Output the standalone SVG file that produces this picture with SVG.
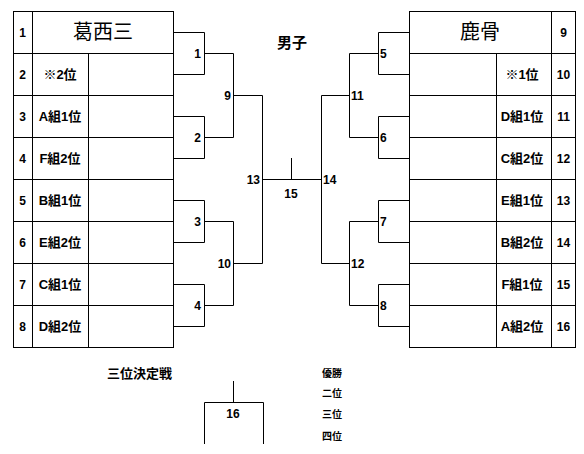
<svg xmlns="http://www.w3.org/2000/svg" width="584" height="454" viewBox="0 0 584 454">
<style>
.ln{fill:none;stroke:#000;stroke-width:1}
.cell{fill:#fff;stroke:#000;stroke-width:1}
.t{font-family:"Liberation Sans","Noto Sans CJK JP",sans-serif;font-weight:bold;font-size:12px;fill:#000}
.lab{font-family:"Liberation Sans","Noto Sans CJK JP",sans-serif;font-weight:bold;font-size:13px;fill:#000}
.cjk{font-family:"Noto Sans CJK JP",sans-serif}
.ttl{font-family:"Noto Sans CJK JP",sans-serif;font-size:20px;fill:#000}
.hd{font-family:"Noto Sans CJK JP",sans-serif;font-size:15px;font-weight:bold;fill:#000}
.sm{font-family:"Noto Sans CJK JP",sans-serif;font-size:10px;font-weight:bold;fill:#000}
.m{text-anchor:middle}
.e{text-anchor:end}
</style>
<rect width="584" height="454" fill="#fff"/>

<g id="left-table">
<rect class="cell" x="13.5" y="11.5" width="160" height="336"/>
<path class="ln" d="M32.5,11.5V347.5M88.5,53.5V347.5M13.5,53.5H173.5M13.5,95.5H173.5M13.5,137.5H173.5M13.5,179.5H173.5M13.5,221.5H173.5M13.5,263.5H173.5M13.5,305.5H173.5"/>
</g>
<g id="team-1"><text class="t m" x="22.5" y="37">1</text><text class="ttl m" x="103" y="39">葛西三</text></g>
<g id="team-2"><text class="t m" x="22.5" y="79">2</text><text class="lab m" x="60" y="79"><tspan class="cjk">※</tspan>2位</text></g>
<g id="team-3"><text class="t m" x="22.5" y="121">3</text><text class="lab m" x="60" y="121">A組1位</text></g>
<g id="team-4"><text class="t m" x="22.5" y="163">4</text><text class="lab m" x="60" y="163">F組2位</text></g>
<g id="team-5"><text class="t m" x="22.5" y="205">5</text><text class="lab m" x="60" y="205">B組1位</text></g>
<g id="team-6"><text class="t m" x="22.5" y="247">6</text><text class="lab m" x="60" y="247">E組2位</text></g>
<g id="team-7"><text class="t m" x="22.5" y="289">7</text><text class="lab m" x="60" y="289">C組1位</text></g>
<g id="team-8"><text class="t m" x="22.5" y="331">8</text><text class="lab m" x="60" y="331">D組2位</text></g>

<g id="right-table">
<rect class="cell" x="409.5" y="11.5" width="166" height="336"/>
<path class="ln" d="M551.5,11.5V347.5M496.5,53.5V347.5M409.5,53.5H575.5M409.5,95.5H575.5M409.5,137.5H575.5M409.5,179.5H575.5M409.5,221.5H575.5M409.5,263.5H575.5M409.5,305.5H575.5"/>
</g>
<g id="team-9"><text class="t m" x="563.5" y="37">9</text><text class="ttl m" x="480" y="39">鹿骨</text></g>
<g id="team-10"><text class="t m" x="563.5" y="79">10</text><text class="lab m" x="522" y="79"><tspan class="cjk">※</tspan>1位</text></g>
<g id="team-11"><text class="t m" x="563.5" y="121">11</text><text class="lab m" x="522" y="121">D組1位</text></g>
<g id="team-12"><text class="t m" x="563.5" y="163">12</text><text class="lab m" x="522" y="163">C組2位</text></g>
<g id="team-13"><text class="t m" x="563.5" y="205">13</text><text class="lab m" x="522" y="205">E組1位</text></g>
<g id="team-14"><text class="t m" x="563.5" y="247">14</text><text class="lab m" x="522" y="247">B組2位</text></g>
<g id="team-15"><text class="t m" x="563.5" y="289">15</text><text class="lab m" x="522" y="289">F組1位</text></g>
<g id="team-16"><text class="t m" x="563.5" y="331">16</text><text class="lab m" x="522" y="331">A組2位</text></g>

<g id="connectors">
<path class="ln" d="M173.5,32.5H204.5V74.5H173.5M204.5,53.5H233.5"/>
<path class="ln" d="M173.5,116.5H204.5V158.5H173.5M204.5,137.5H233.5"/>
<path class="ln" d="M173.5,200.5H204.5V242.5H173.5M204.5,221.5H233.5"/>
<path class="ln" d="M173.5,284.5H204.5V326.5H173.5M204.5,305.5H233.5"/>
<path class="ln" d="M233.5,53.5V137.5M233.5,95.5H262.5"/>
<path class="ln" d="M233.5,221.5V305.5M233.5,263.5H262.5"/>
<path class="ln" d="M262.5,95.5V263.5M262.5,179.5H321.5M291.5,158V179.5"/>
<path class="ln" d="M409,32.5H378.5V74.5H409M378.5,53.5H349.5"/>
<path class="ln" d="M409,116.5H378.5V158.5H409M378.5,137.5H349.5"/>
<path class="ln" d="M409,200.5H378.5V242.5H409M378.5,221.5H349.5"/>
<path class="ln" d="M409,284.5H378.5V326.5H409M378.5,305.5H349.5"/>
<path class="ln" d="M349.5,53.5V137.5M349.5,95.5H321.5"/>
<path class="ln" d="M349.5,221.5V305.5M349.5,263.5H321.5"/>
<path class="ln" d="M321.5,95.5V263.5"/>
<path class="ln" d="M233.5,381V402.5M204.5,444V402.5H263.5V444"/>
</g>

<g id="match-1"><text class="t e" x="201" y="57.5">1</text></g>
<g id="match-2"><text class="t e" x="201" y="141.5">2</text></g>
<g id="match-3"><text class="t e" x="201" y="225.5">3</text></g>
<g id="match-4"><text class="t e" x="201" y="309.5">4</text></g>
<g id="match-9"><text class="t e" x="231" y="100">9</text></g>
<g id="match-10"><text class="t e" x="231" y="268">10</text></g>
<g id="match-13"><text class="t e" x="260" y="184">13</text></g>
<g id="match-14"><text class="t" x="323" y="184">14</text></g>
<g id="match-15"><text class="t m" x="291" y="198">15</text></g>
<g id="match-5"><text class="t" x="380" y="57.5">5</text></g>
<g id="match-6"><text class="t" x="380" y="141.5">6</text></g>
<g id="match-7"><text class="t" x="380" y="225.5">7</text></g>
<g id="match-8"><text class="t" x="380" y="309.5">8</text></g>
<g id="match-11"><text class="t" x="351" y="100">11</text></g>
<g id="match-12"><text class="t" x="351" y="268">12</text></g>
<g id="match-16"><text class="t m" x="233" y="418">16</text></g>

<g id="labels">
<text class="hd m" x="292" y="48">男子</text>
<text class="lab" x="107" y="377.5">三位決定戦</text>
<text class="sm" x="322" y="377">優勝</text>
<text class="sm" x="322" y="397">二位</text>
<text class="sm" x="322" y="418">三位</text>
<text class="sm" x="322" y="440">四位</text>
</g>
</svg>
